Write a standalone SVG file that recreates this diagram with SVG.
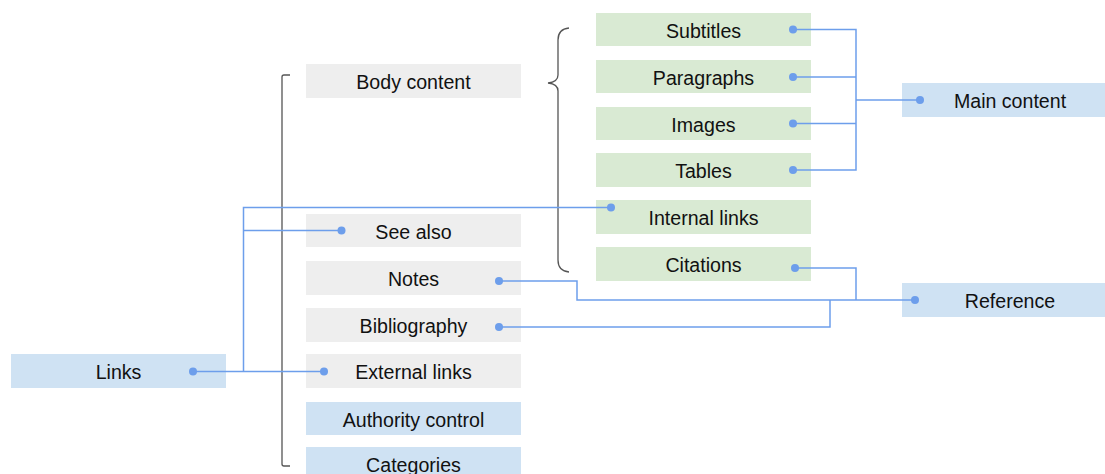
<svg xmlns="http://www.w3.org/2000/svg" width="1105" height="474" viewBox="0 0 1105 474">
<style>
.g{fill:#d9ead3}.b{fill:#cfe2f3}.n{fill:#eeeeee}
text{font-family:"Liberation Sans",Arial,sans-serif;font-size:19.6px;fill:#111;text-anchor:middle;dominant-baseline:central}
.c{fill:none;stroke:#6d9eeb;stroke-width:1.5}
.d{fill:#6d9eeb}
.k{fill:none;stroke:#555;stroke-width:1.3}
</style>
<rect width="1105" height="474" fill="#fff"/>
<g id="brackets">
<path class="k" d="M290,75 H284 Q282,75 282,77 V464 Q282,466 284,466 H290"/>
<path class="k" d="M569,28 Q558,29 558,40 V75 Q558,82 548,83 Q558,84 558,91 V260 Q558,271 569,272"/>
</g>
<g id="body-content"><rect class="n" x="306" y="64" width="215" height="34"/><text x="413.5" y="82">Body content</text></g>
<g id="see-also"><rect class="n" x="306" y="214" width="215" height="33"/><text x="413.5" y="231.5">See also</text></g>
<g id="notes"><rect class="n" x="306" y="261" width="215" height="34"/><text x="413.5" y="279">Notes</text></g>
<g id="bibliography"><rect class="n" x="306" y="308" width="215" height="34"/><text x="413.5" y="326">Bibliography</text></g>
<g id="external-links"><rect class="n" x="306" y="354" width="215" height="34"/><text x="413.5" y="372">External links</text></g>
<g id="authority-control"><rect class="b" x="306" y="402" width="215" height="33"/><text x="413.5" y="419.5">Authority control</text></g>
<g id="categories"><rect class="b" x="306" y="447" width="215" height="33"/><text x="413.5" y="464.5">Categories</text></g>
<g id="subtitles"><rect class="g" x="596" y="13" width="215" height="33"/><text x="703.5" y="30.5">Subtitles</text></g>
<g id="paragraphs"><rect class="g" x="596" y="60" width="215" height="33"/><text x="703.5" y="77.5">Paragraphs</text></g>
<g id="images"><rect class="g" x="596" y="107" width="215" height="33"/><text x="703.5" y="124.5">Images</text></g>
<g id="tables"><rect class="g" x="596" y="153" width="215" height="34"/><text x="703.5" y="171">Tables</text></g>
<g id="internal-links"><rect class="g" x="596" y="200" width="215" height="34"/><text x="703.5" y="218">Internal links</text></g>
<g id="citations"><rect class="g" x="596" y="247" width="215" height="34"/><text x="703.5" y="265">Citations</text></g>
<g id="main-content"><rect class="b" x="902" y="83" width="216" height="34"/><text x="1010" y="101">Main content</text></g>
<g id="reference"><rect class="b" x="902" y="283" width="216" height="34"/><text x="1010" y="301">Reference</text></g>
<g id="links"><rect class="b" x="11" y="354" width="215" height="34"/><text x="118.5" y="372">Links</text></g>
<g id="connectors">
<path class="c" d="M793,29.5 H856 V170 H793 M793,77 H856 M793,123.5 H856 M856,100 H920"/>
<path class="c" d="M193,371.5 H324 M243.5,371.5 V207.5 H611 M243.5,230.5 H341.5"/>
<path class="c" d="M499,281 H577 V300 H915 M499,327 H830 V300 M795,268 H856 V300"/>
<circle class="d" cx="793" cy="29.5" r="4"/>
<circle class="d" cx="793" cy="77" r="4"/>
<circle class="d" cx="793" cy="123.5" r="4"/>
<circle class="d" cx="793" cy="170" r="4"/>
<circle class="d" cx="920" cy="100" r="4"/>
<circle class="d" cx="193" cy="371.5" r="4"/>
<circle class="d" cx="324" cy="371.5" r="4"/>
<circle class="d" cx="611" cy="207.5" r="4"/>
<circle class="d" cx="341.5" cy="230.5" r="4"/>
<circle class="d" cx="499" cy="281" r="4"/>
<circle class="d" cx="499" cy="327" r="4"/>
<circle class="d" cx="795" cy="268" r="4"/>
<circle class="d" cx="915" cy="300" r="4"/>
</g>
</svg>
